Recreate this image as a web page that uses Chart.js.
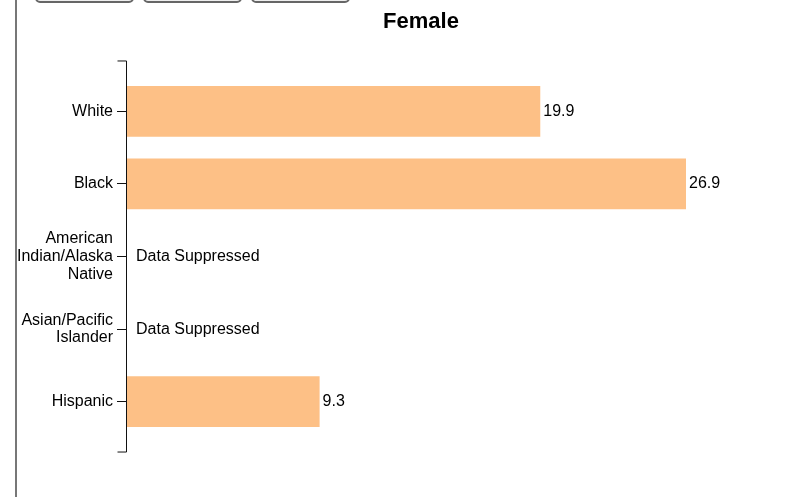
<!DOCTYPE html>
<html>
<head>
<meta charset="utf-8">
<script src="https://cdn.jsdelivr.net/npm/chart.js@4/dist/chart.umd.min.js"></script>
<style>
    body { margin: 0; background: #fff; overflow: hidden; }
    #wrap { position: relative; width: 788px; height: 497px; }
    #leftBorder { position: absolute; left: 15px; top: 0; width: 2px; height: 497px; background: #777; }
    .btn { position: absolute; top: -30px; width: 95px; height: 29px; border: 2px solid #666; border-radius: 5px; background: #eee; }
    canvas { position: absolute; left: 0; top: 0; }
</style>
</head>
<body>
<div id="wrap">
    <div id="leftBorder"></div>
    <div class="btn" style="left:35px"></div>
    <div class="btn" style="left:143px"></div>
    <div class="btn" style="left:251px"></div>
    <canvas id="raceChart" width="788" height="497"></canvas>
</div>
<script>
// Data
let chartTitle = 'Female';
let categories = [
    'White',
    'Black',
    ['American', 'Indian/Alaska', 'Native'],
    ['Asian/Pacific', 'Islander'],
    'Hispanic'
];
let rates = [19.9, 26.9, null, null, 9.3];
let suppressedText = 'Data Suppressed';
let barColor = '#fdc086';
let fontFamily = '"Liberation Sans", Arial, Helvetica, sans-serif';

// Axis line with bracket ends, drawn a little beyond the band range
let bracketAxis = {
    id: 'bracketAxis',
    afterDraw: function(chart) {
        let ctx = chart.ctx;
        let y = chart.scales.y;
        let ext = (y.bottom - y.top) / categories.length * 0.2;
        let x = y.right + 0.5;
        ctx.save();
        ctx.strokeStyle = '#111';
        ctx.lineWidth = 1;
        ctx.beginPath();
        ctx.moveTo(x - 9, y.top - ext + 0.5);
        ctx.lineTo(x, y.top - ext + 0.5);
        ctx.lineTo(x, y.bottom + ext - 0.5);
        ctx.lineTo(x - 9, y.bottom + ext - 0.5);
        ctx.stroke();
        ctx.restore();
    }
};

// Value labels at bar ends, and "Data Suppressed" for missing values
let valueLabels = {
    id: 'valueLabels',
    afterDatasetsDraw: function(chart) {
        let ctx = chart.ctx;
        let meta = chart.getDatasetMeta(0);
        ctx.save();
        ctx.font = '16px ' + fontFamily;
        ctx.fillStyle = '#000';
        ctx.textAlign = 'left';
        ctx.textBaseline = 'middle';
        rates.forEach(function(v, i) {
            let yPos = chart.scales.y.getPixelForValue(i);
            if (v === null) {
                ctx.fillText(suppressedText, chart.chartArea.left + 10, yPos);
            } else {
                ctx.fillText(v.toFixed(1), meta.data[i].x + 3, yPos);
            }
        });
        ctx.restore();
    }
};

// Title placed over the plot
let titleText = {
    id: 'titleText',
    afterDraw: function(chart) {
        let ctx = chart.ctx;
        ctx.save();
        ctx.font = 'bold 22px ' + fontFamily;
        ctx.fillStyle = '#000';
        ctx.textAlign = 'center';
        ctx.textBaseline = 'middle';
        ctx.fillText(chartTitle, 421, 22);
        ctx.restore();
    }
};

let raceChartCtx = document.getElementById('raceChart').getContext('2d');

let raceChart = new Chart(raceChartCtx, {
    type: 'bar',
    data: {
        labels: categories,
        datasets: [{
            label: 'Rate',
            data: rates,
            backgroundColor: barColor,
            borderWidth: 0,
            categoryPercentage: 0.7,
            barPercentage: 1
        }]
    },
    options: {
        indexAxis: 'y',
        responsive: false,
        animation: false,
        layout: {
            padding: { left: 0, right: 102, top: 75, bottom: 59 }
        },
        scales: {
            x: {
                display: false,
                min: 0,
                max: 26.9
            },
            y: {
                afterFit: function(scale) {
                    scale.width = 126;
                },
                border: { display: false },
                grid: {
                    drawOnChartArea: false,
                    drawTicks: true,
                    tickLength: 9,
                    offset: false,
                    color: '#111'
                },
                ticks: {
                    padding: 4,
                    color: '#000',
                    font: { family: fontFamily, size: 16, lineHeight: 1.1 }
                }
            }
        },
        plugins: {
            legend: { display: false },
            tooltip: { enabled: false }
        }
    },
    plugins: [bracketAxis, valueLabels, titleText]
});
</script>
</body>
</html>
